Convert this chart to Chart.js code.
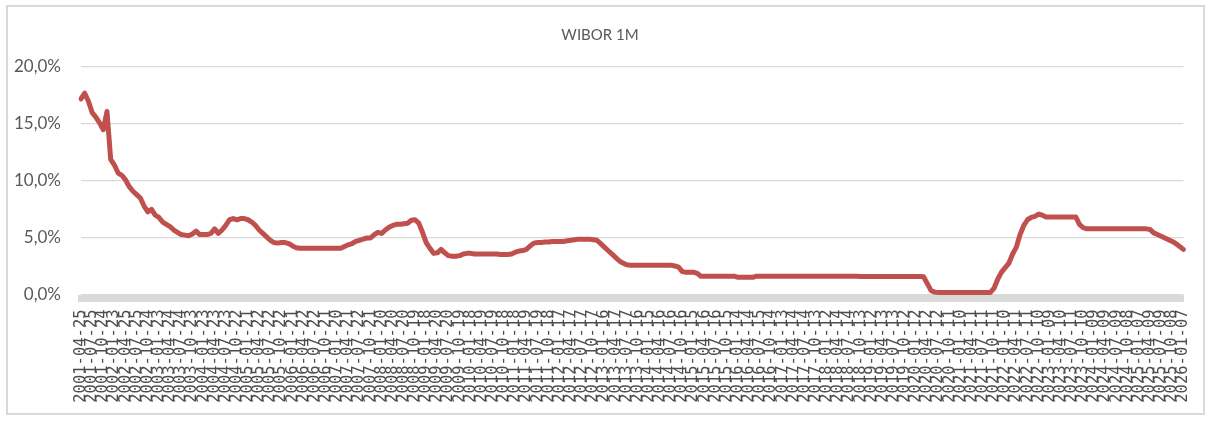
<!DOCTYPE html>
<html><head><meta charset="utf-8">
<script src="https://cdn.jsdelivr.net/npm/chart.js@4.4.1/dist/chart.umd.min.js"></script>
<style>
html,body{margin:0;padding:0;background:#fff;}
#wrap{position:relative;width:1213px;height:424px;}
#frame{position:absolute;left:6px;top:5px;width:1199px;height:410px;border:2px solid #d9d9d9;box-sizing:border-box;pointer-events:none;}
canvas{position:absolute;left:0;top:0;}
</style></head><body>
<div id="wrap"><canvas id="c" width="1213" height="424"></canvas><div id="frame"></div></div>
<script>
const chartTitle = 'WIBOR 1M';

const tickLabels = [
 '2001-04-25','2001-07-25','2001-10-24',
 '2002-01-23','2002-04-25','2002-07-25','2002-10-24',
 '2003-01-23','2003-04-24','2003-07-24','2003-10-23',
 '2004-01-23','2004-04-23','2004-07-23','2004-10-22',
 '2005-01-21','2005-04-22','2005-07-22','2005-10-22',
 '2006-01-21','2006-04-22','2006-07-22','2006-10-21',
 '2007-01-20','2007-04-21','2007-07-22','2007-10-21',
 '2008-01-20','2008-04-20','2008-07-20','2008-10-19',
 '2009-01-18','2009-04-20','2009-07-20','2009-10-19',
 '2010-01-18','2010-04-19','2010-07-19','2010-10-18',
 '2011-01-18','2011-04-19','2011-07-19','2011-10-18',
 '2012-01-17','2012-04-17','2012-07-17','2012-10-17',
 '2013-01-16','2013-04-17','2013-07-17','2013-10-16',
 '2014-01-15','2014-04-16','2014-07-16','2014-10-16',
 '2015-01-15','2015-04-16','2015-07-16','2015-10-15',
 '2016-01-14','2016-04-14','2016-07-15','2016-10-14',
 '2017-01-13','2017-04-14','2017-07-14','2017-10-13',
 '2018-01-12','2018-04-14','2018-07-14','2018-10-13',
 '2019-01-12','2019-04-13','2019-07-13','2019-10-12',
 '2020-01-12','2020-04-12','2020-07-12','2020-10-11',
 '2021-01-10','2021-04-11','2021-07-11','2021-10-11',
 '2022-01-10','2022-04-11','2022-07-11','2022-10-10',
 '2023-01-09','2023-04-10','2023-07-11','2023-10-10',
 '2024-01-09','2024-04-09','2024-07-09','2024-10-08',
 '2025-01-07','2025-04-09','2025-07-09','2025-10-08',
 '2026-01-07'
];

// WIBOR 1M, % (three readings per labelled interval)
const wibor1m = [
 17.2,17.7,17.0,16.0,15.6,15.1,14.5,16.1,11.9,11.4,10.7,10.5,
 10.1,9.5,9.1,8.8,8.5,7.8,7.3,7.5,7.0,6.8,6.4,6.2,
 6.0,5.7,5.5,5.3,5.25,5.2,5.35,5.6,5.3,5.3,5.3,5.4,
 5.8,5.4,5.7,6.1,6.6,6.7,6.6,6.7,6.7,6.6,6.4,6.1,
 5.7,5.4,5.1,4.8,4.6,4.55,4.6,4.6,4.5,4.3,4.15,4.1,
 4.1,4.1,4.1,4.1,4.1,4.1,4.1,4.1,4.1,4.1,4.1,4.25,
 4.4,4.5,4.7,4.8,4.9,5.0,5.0,5.3,5.5,5.4,5.7,5.95,
 6.1,6.2,6.2,6.25,6.3,6.55,6.6,6.3,5.5,4.6,4.1,3.65,
 3.7,4.0,3.7,3.45,3.4,3.4,3.45,3.6,3.65,3.65,3.6,3.6,
 3.6,3.6,3.6,3.6,3.6,3.55,3.55,3.55,3.6,3.75,3.85,3.9,
 4.0,4.3,4.55,4.6,4.6,4.65,4.65,4.7,4.7,4.7,4.7,4.75,
 4.8,4.85,4.9,4.9,4.9,4.9,4.85,4.8,4.5,4.2,3.9,3.6,
 3.3,3.0,2.8,2.65,2.6,2.6,2.6,2.6,2.6,2.6,2.6,2.6,
 2.6,2.6,2.6,2.6,2.55,2.45,2.05,2.0,2.0,2.0,1.9,1.65,
 1.65,1.65,1.65,1.65,1.65,1.65,1.65,1.65,1.65,1.55,1.55,1.55,
 1.55,1.55,1.65,1.65,1.65,1.65,1.65,1.65,1.65,1.65,1.65,1.65,
 1.65,1.65,1.65,1.65,1.65,1.65,1.65,1.65,1.65,1.65,1.65,1.65,
 1.65,1.65,1.65,1.65,1.65,1.65,1.62,1.62,1.62,1.62,1.62,1.62,
 1.62,1.62,1.62,1.62,1.62,1.62,1.62,1.62,1.62,1.62,1.62,1.6,
 1.0,0.4,0.25,0.22,0.22,0.22,0.22,0.22,0.22,0.22,0.22,0.22,
 0.22,0.22,0.22,0.22,0.22,0.22,0.6,1.4,2.0,2.4,2.8,3.6,
 4.2,5.3,6.1,6.6,6.8,6.9,7.1,7.0,6.85,6.85,6.85,6.85,
 6.85,6.85,6.85,6.85,6.85,6.2,5.9,5.8,5.8,5.8,5.8,5.8,
 5.8,5.8,5.8,5.8,5.8,5.8,5.8,5.8,5.8,5.8,5.8,5.8,
 5.75,5.45,5.3,5.15,5.0,4.85,4.7,4.5,4.25,4.0
];

const yTicks = [0, 5, 10, 15, 20];
const pointsPerTick = 3;

const categories = wibor1m.map((_, i) => i % pointsPerTick === 0 ? tickLabels[i / pointsPerTick] : '');

new Chart(document.getElementById('c'), {
  type: 'line',
  data: {
    labels: categories,
    datasets: [{
      label: chartTitle,
      data: wibor1m,
      borderColor: '#c0504d',
      borderWidth: 5,
      pointRadius: 0,
      tension: 0,
      fill: false,
      borderJoinStyle: 'round',
      borderCapStyle: 'round'
    }]
  },
  options: {
    responsive: false,
    animation: false,
    layout: { padding: { left: 10, right: 23, top: 0, bottom: 0 } },
    plugins: {
      legend: { display: false },
      tooltip: { enabled: false },
      title: {
        display: true, text: chartTitle, color: '#595959',
        font: { family: 'Lato', size: 15, weight: 'normal' },
        padding: { top: 26, bottom: 23 }
      }
    },
    scales: {
      x: {
        type: 'category',
        grid: { display: false, drawTicks: false },
        border: { display: true, color: '#d9d9d9', width: 7 },
        ticks: {
          autoSkip: false, minRotation: 90, maxRotation: 90, padding: 11,
          color: '#4d4d4d', font: { family: 'DejaVu Sans Mono', size: 15.5 }
        },
        afterFit: s => { s.height = 125.6; }
      },
      y: {
        min: -0.3, max: 20,
        afterBuildTicks: s => { s.ticks = yTicks.map(v => ({ value: v })); },
        grid: { color: '#d9d9d9', lineWidth: 1.3, drawTicks: false },
        border: { display: false },
        ticks: {
          padding: 20, color: '#595959',
          font: { family: 'Lato', size: 17 },
          callback: v => v.toFixed(1).replace('.', ',') + '%'
        },
        afterFit: s => { s.width = 71; }
      }
    }
  }
});
</script>
</body></html>
